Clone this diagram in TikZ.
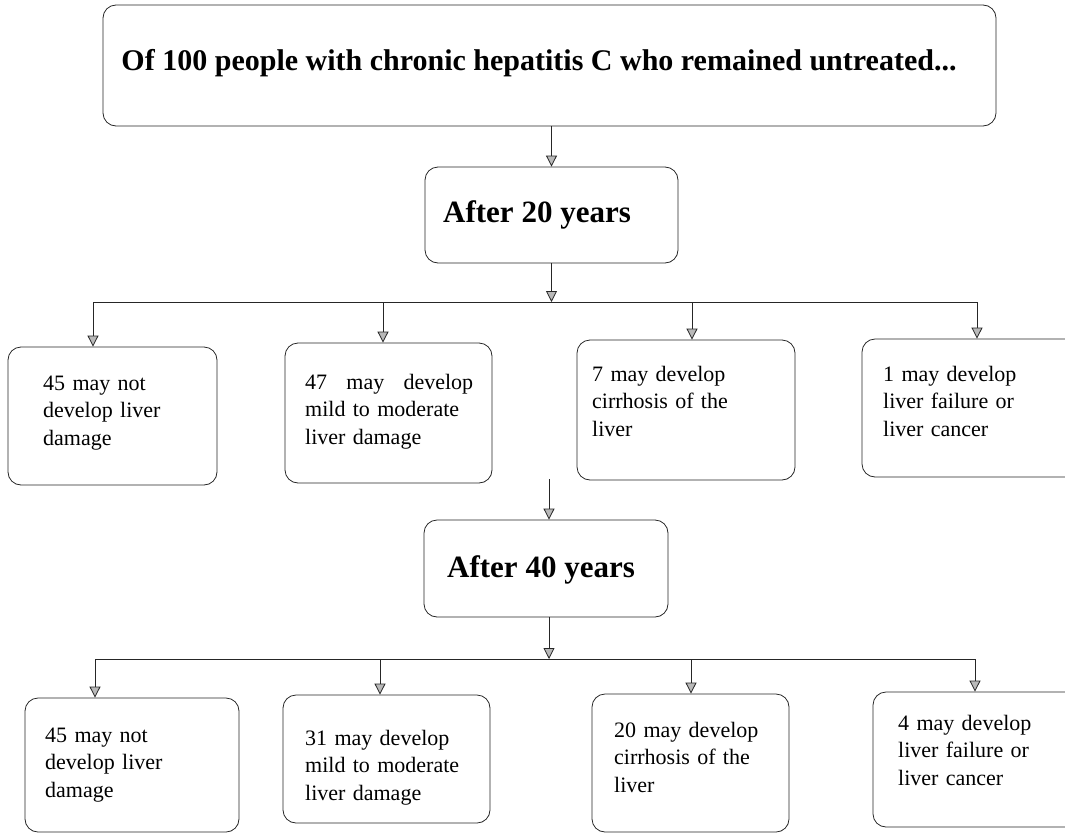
\documentclass[tikz,border=0pt]{standalone}
\usepackage{fontspec}
\setmainfont{Liberation Serif}
\usetikzlibrary{arrows.meta}
\begin{document}
\begin{tikzpicture}[x=1pt,y=-1pt,
  box/.style={draw=black!85, line width=0.8pt, rounded corners=13pt, inner sep=0pt},
  body/.style={font=\fontsize{22}{27.5}\selectfont, text width=190pt, align=left, inner sep=0pt, anchor=base west},
  head/.style={font=\bfseries\fontsize{30}{36}\selectfont, inner sep=0pt},
  conn/.style={draw=black!85, line width=0.8pt},
  arr/.style={conn, -{Triangle[width=11pt,length=11pt,fill=gray!55]}}
]
\useasboundingbox (0,0) rectangle (1065,835);
\clip (0,0) rectangle (1065,835);

% top box
\node[box, minimum width=893pt, minimum height=121pt] (top) at (549.5,65.5) {};
\node[head, anchor=base] (ttop) at (539,70) {Of 100 people with chronic hepatitis C who remained untreated...};

% after 20
\node[box, minimum width=253pt, minimum height=96pt] (a20) at (551.5,215) {};
\node[head, anchor=base west, font=\bfseries\fontsize{31}{36}\selectfont] (t20) at (443,222) {After 20 years};

% row 1
\node[box, minimum width=209pt, minimum height=138pt] (b11) at (112.5,416) {};
\node[body] (t11) at (43,390) {45 may not\\develop liver\\damage};
\node[box, minimum width=207pt, minimum height=140pt] (b12) at (388.5,413) {};
\node[body, text width=168pt] (t12) at (305,389) {47\hfill may\hfill develop\\mild to moderate\\liver damage};
\node[box, minimum width=218pt, minimum height=140pt] (b13) at (686,410) {};
\node[body] (t13) at (592,381) {7 may develop\\cirrhosis of the\\liver};
\node[box, minimum width=218pt, minimum height=138pt] (b14) at (971,408) {};
\node[body] (t14) at (883,381) {1 may develop\\liver failure or\\liver cancer};

% after 40
\node[box, minimum width=244pt, minimum height=97pt] (a40) at (546,568.5) {};
\node[head, anchor=base west, font=\bfseries\fontsize{31}{36}\selectfont] (t40) at (447,577) {After 40 years};

% row 2
\node[box, minimum width=214pt, minimum height=134pt] (b21) at (132,765) {};
\node[body] (t21) at (45,742) {45 may not\\develop liver\\damage};
\node[box, minimum width=207pt, minimum height=128pt] (b22) at (386.5,759) {};
\node[body] (t22) at (305,745) {31 may develop\\mild to moderate\\liver damage};
\node[box, minimum width=197pt, minimum height=138pt] (b23) at (690.5,763) {};
\node[body] (t23) at (614,737) {20 may develop\\cirrhosis of the\\liver};
\node[box, minimum width=217pt, minimum height=135pt] (b24) at (981.5,759.5) {};
\node[body] (t24) at (898,730) {4 may develop\\liver failure or\\liver cancer};

% junction coordinates
\coordinate (h1L) at (93,302);
\coordinate (h1a) at (383,302);
\coordinate (h1b) at (692,302);
\coordinate (h1R) at (977,302);
\coordinate (m) at (549,479);
\coordinate (h2L) at (95,659);
\coordinate (h2a) at (380,659);
\coordinate (h2b) at (691,659);
\coordinate (h2R) at (975,659);

% connectors
\draw[arr] (top.south -| a20.north) -- (a20.north);
\draw[arr] (a20.south) -- (a20.south |- h1L);
\draw[conn] (h1L) -- (h1R);
\draw[arr] (h1L) -- (h1L |- b11.north);
\draw[arr] (h1a) -- (h1a |- b12.north);
\draw[arr] (h1b) -- (h1b |- b13.north);
\draw[arr] (h1R) -- (h1R |- b14.north);
\draw[arr] (m) -- (m |- a40.north);
\draw[arr] (m |- a40.south) -- (m |- h2L);
\draw[conn] (h2L) -- (h2R);
\draw[arr] (h2L) -- (h2L |- b21.north);
\draw[arr] (h2a) -- (h2a |- b22.north);
\draw[arr] (h2b) -- (h2b |- b23.north);
\draw[arr] (h2R) -- (h2R |- b24.north);
\end{tikzpicture}
\end{document}
